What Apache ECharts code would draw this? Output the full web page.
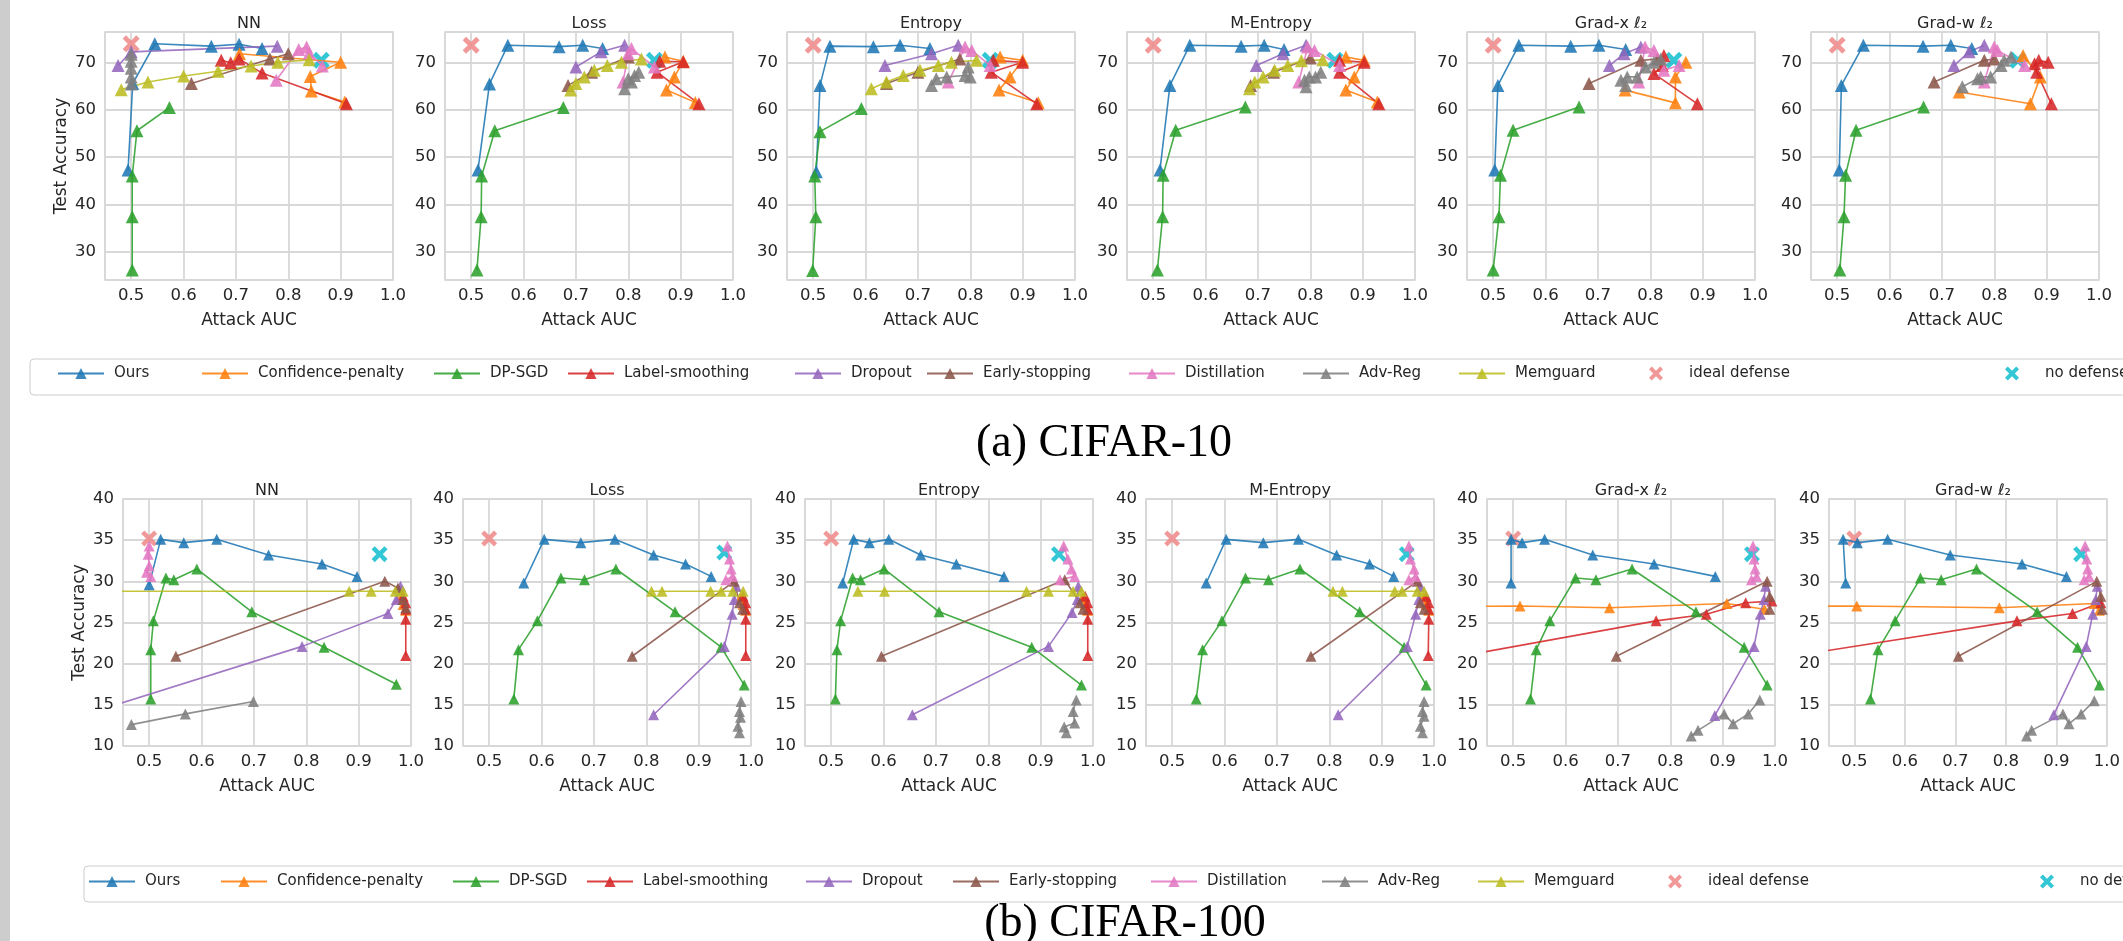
<!DOCTYPE html>
<html>
<head>
<meta charset="utf-8">
<title>Test accuracy vs attack AUC</title>
<script src="https://cdn.jsdelivr.net/npm/echarts@6/dist/echarts.min.js"></script>
<style>
html, body { margin: 0; padding: 0; background: #fff; }
#main { width: 2123px; height: 941px; }
</style>
</head>
<body>
<div id="main"></div>
<script>
// legend names, in plotting order
var methods = ['Ours', 'Confidence-penalty', 'DP-SGD', 'Label-smoothing', 'Dropout',
	'Early-stopping', 'Distillation', 'Adv-Reg', 'Memguard', 'ideal defense', 'no defense'];
var panelTitles = ['NN', 'Loss', 'Entropy', 'M-Entropy', 'Grad-x \u2113\u2082', 'Grad-w \u2113\u2082'];
var captions = ['(a) CIFAR-10', '(b) CIFAR-100'];

// ---- CIFAR-10 : each array holds one point list per panel (NN, Loss, Entropy, M-Entropy, Grad-x, Grad-w)
var c10Ours = [
	[[0.494,47.3],[0.503,65.6],[0.545,74.0],[0.653,73.5],[0.706,73.9],[0.750,73.0]],
	[[0.513,47.3],[0.535,65.5],[0.570,73.7],[0.668,73.4],[0.713,73.7],[0.751,73.0]],
	[[0.506,46.9],[0.513,65.2],[0.532,73.5],[0.615,73.4],[0.666,73.7],[0.723,73.0]],
	[[0.513,47.3],[0.532,65.2],[0.570,73.7],[0.668,73.5],[0.712,73.7],[0.750,72.8]],
	[[0.503,47.3],[0.509,65.2],[0.549,73.7],[0.648,73.5],[0.702,73.7],[0.753,72.8]],
	[[0.504,47.3],[0.508,65.2],[0.550,73.7],[0.664,73.5],[0.717,73.7],[0.757,73.0]]
];
var c10Conf = [
	[[0.707,71.9],[0.900,70.1],[0.842,67.1],[0.844,64.0],[0.908,61.7]],
	[[0.870,71.2],[0.905,70.3],[0.888,67.0],[0.873,64.2],[0.928,61.6]],
	[[0.857,71.2],[0.900,70.5],[0.876,67.0],[0.855,64.2],[0.930,61.5]],
	[[0.868,71.2],[0.903,70.5],[0.884,67.0],[0.868,64.2],[0.928,61.7]],
	[[0.868,70.1],[0.848,67.0],[0.848,61.5],[0.752,64.2]],
	[[0.855,71.5],[0.888,67.0],[0.869,61.3],[0.733,63.8]]
];
var c10Dp = [
	[[0.502,26.1],[0.502,37.4],[0.502,46.0],[0.511,55.6],[0.573,60.5]],
	[[0.511,26.1],[0.519,37.4],[0.520,46.0],[0.545,55.6],[0.676,60.5]],
	[[0.499,26.0],[0.505,37.4],[0.503,46.0],[0.513,55.4],[0.592,60.3]],
	[[0.508,26.1],[0.518,37.4],[0.519,46.2],[0.543,55.7],[0.676,60.6]],
	[[0.500,26.1],[0.511,37.4],[0.514,46.2],[0.538,55.7],[0.664,60.6]],
	[[0.505,26.1],[0.513,37.4],[0.516,46.2],[0.536,55.7],[0.665,60.6]]
];
var c10Label = [
	[[0.672,70.5],[0.690,70.0],[0.706,70.8],[0.750,67.8],[0.911,61.3]],
	[[0.860,70.3],[0.905,70.2],[0.855,68.0],[0.935,61.3]],
	[[0.844,70.5],[0.900,70.1],[0.840,68.0],[0.927,61.3]],
	[[0.856,70.5],[0.903,70.1],[0.856,68.0],[0.931,61.3]],
	[[0.826,71.5],[0.823,69.4],[0.807,67.7],[0.890,61.3]],
	[[0.885,70.5],[0.903,70.1],[0.877,69.8],[0.881,68.0],[0.909,61.3]]
];
var c10Dropout = [
	[[0.475,69.4],[0.500,72.3],[0.779,73.5]],
	[[0.700,69.1],[0.748,72.3],[0.793,73.7]],
	[[0.637,69.4],[0.726,71.9],[0.777,73.7]],
	[[0.697,69.4],[0.748,71.9],[0.792,73.7]],
	[[0.722,69.4],[0.750,71.9],[0.782,73.3]],
	[[0.723,69.4],[0.752,72.3],[0.781,73.7]]
];
var c10Early = [
	[[0.615,65.6],[0.765,70.8],[0.800,71.9]],
	[[0.685,65.2],[0.730,68.0],[0.800,71.2]],
	[[0.640,65.6],[0.700,68.0],[0.780,70.8]],
	[[0.686,65.2],[0.730,68.0],[0.800,71.0]],
	[[0.683,65.6],[0.782,70.5],[0.814,70.8]],
	[[0.685,65.9],[0.781,70.5],[0.800,70.8]]
];
var c10Distill = [
	[[0.777,66.3],[0.820,72.8],[0.835,73.3],[0.840,72.0],[0.865,69.3]],
	[[0.790,65.9],[0.800,71.9],[0.806,73.0],[0.850,69.1]],
	[[0.758,65.9],[0.790,73.3],[0.803,72.6],[0.838,69.4]],
	[[0.778,65.9],[0.795,73.3],[0.808,72.6],[0.856,69.4]],
	[[0.778,65.9],[0.790,73.3],[0.807,72.6],[0.826,68.4],[0.855,69.4]],
	[[0.781,65.9],[0.800,73.3],[0.806,72.6],[0.858,69.4]]
];
var c10Adv = [
	[[0.500,65.5],[0.500,67.0],[0.500,68.8],[0.500,70.3],[0.500,71.8]],
	[[0.793,64.5],[0.806,65.9],[0.800,66.6],[0.812,67.3],[0.820,68.0]],
	[[0.726,65.2],[0.735,66.6],[0.755,67.0],[0.790,67.3],[0.800,67.0],[0.796,69.1]],
	[[0.792,64.9],[0.789,66.3],[0.798,67.0],[0.810,67.0],[0.820,68.0]],
	[[0.753,65.2],[0.744,66.3],[0.756,67.0],[0.775,67.0],[0.791,69.1],[0.807,70.1],[0.820,70.8]],
	[[0.739,64.9],[0.768,66.6],[0.774,67.0],[0.793,67.0],[0.813,69.4],[0.819,70.5],[0.832,71.2]]
];
var c10Mem = [
	[[0.481,64.3],[0.532,65.9],[0.600,67.2],[0.666,68.2],[0.729,69.3],[0.780,70.1],[0.840,70.6]],
	[[0.690,64.2],[0.700,65.6],[0.716,67.0],[0.735,68.4],[0.760,69.4],[0.787,70.1],[0.825,70.8]],
	[[0.611,64.5],[0.640,65.9],[0.672,67.3],[0.704,68.4],[0.739,69.4],[0.764,70.1],[0.812,70.5]],
	[[0.684,64.5],[0.694,65.9],[0.710,67.0],[0.732,68.4],[0.757,69.4],[0.783,70.4],[0.824,70.6]],
	[],
	[]
];
var c10Ideal = [[[0.5,74.0]],[[0.5,73.7]],[[0.5,73.7]],[[0.5,73.7]],[[0.5,73.7]],[[0.5,73.7]]];
var c10None = [[[0.863,70.5]],[[0.850,70.5]],[[0.838,70.5]],[[0.847,70.5]],[[0.845,70.5]],[[0.845,70.5]]];

// ---- CIFAR-100
var c100Ours = [
	[[0.500,29.6],[0.522,35.1],[0.566,34.7],[0.629,35.1],[0.728,33.2],[0.830,32.1],[0.897,30.6]],
	[[0.566,29.8],[0.605,35.1],[0.675,34.7],[0.740,35.1],[0.814,33.2],[0.875,32.1],[0.924,30.6]],
	[[0.522,29.8],[0.543,35.1],[0.573,34.7],[0.610,35.1],[0.671,33.2],[0.739,32.1],[0.830,30.6]],
	[[0.565,29.8],[0.603,35.1],[0.674,34.7],[0.741,35.1],[0.814,33.2],[0.877,32.1],[0.923,30.6]],
	[[0.496,29.8],[0.496,35.1],[0.517,34.7],[0.560,35.1],[0.652,33.2],[0.769,32.1],[0.886,30.6]],
	[[0.483,29.8],[0.478,35.1],[0.506,34.7],[0.566,35.1],[0.690,33.2],[0.832,32.1],[0.920,30.6]]
];
var c100Conf = [
	[[0.980,28.0],[0.985,27.2],[0.990,26.5]],
	[[0.980,28.0],[0.985,27.2],[0.990,26.5]],
	[[0.980,28.0],[0.985,27.2],[0.990,26.5]],
	[[0.980,28.0],[0.985,27.2],[0.990,26.5]],
	[[0.100,26.8],[0.513,27.0],[0.684,26.8],[0.908,27.3],[0.980,26.6]],
	[[0.100,26.9],[0.505,27.0],[0.787,26.8],[0.975,27.3],[0.985,26.5]]
];
var c100Dp = [
	[[0.503,15.7],[0.503,21.7],[0.508,25.2],[0.532,30.4],[0.547,30.2],[0.591,31.5],[0.696,26.3],[0.834,22.0],[0.972,17.5]],
	[[0.547,15.7],[0.556,21.7],[0.592,25.2],[0.637,30.4],[0.682,30.2],[0.742,31.5],[0.855,26.3],[0.943,22.0],[0.987,17.4]],
	[[0.508,15.7],[0.511,21.7],[0.518,25.2],[0.541,30.4],[0.556,30.2],[0.601,31.5],[0.706,26.3],[0.883,22.0],[0.978,17.4]],
	[[0.546,15.7],[0.558,21.7],[0.595,25.2],[0.640,30.4],[0.684,30.2],[0.744,31.5],[0.858,26.3],[0.943,22.0],[0.985,17.4]],
	[[0.533,15.7],[0.544,21.7],[0.570,25.2],[0.619,30.4],[0.658,30.2],[0.727,31.5],[0.849,26.3],[0.941,22.0],[0.985,17.4]],
	[[0.532,15.7],[0.547,21.7],[0.581,25.2],[0.631,30.4],[0.672,30.2],[0.742,31.5],[0.862,26.3],[0.942,22.0],[0.985,17.4]]
];
var c100Label = [
	[[0.990,21.0],[0.990,25.4],[0.990,26.6],[0.990,27.4],[0.985,28.2]],
	[[0.990,21.0],[0.990,25.4],[0.990,26.6],[0.990,27.4],[0.985,28.2]],
	[[0.990,21.0],[0.990,25.4],[0.990,26.6],[0.990,27.4],[0.985,28.2]],
	[[0.989,21.0],[0.990,25.4],[0.990,26.6],[0.990,27.4],[0.985,28.2]],
	[[0.200,18.6],[0.773,25.2],[0.869,26.0],[0.944,27.4],[0.994,27.6]],
	[[0.200,19.2],[0.822,25.2],[0.932,26.1],[0.988,27.4]]
];
var c100Dropout = [
	[[0.200,10.3],[0.792,22.1],[0.956,26.1],[0.972,27.8],[0.980,29.4]],
	[[0.814,13.8],[0.949,22.1],[0.964,26.0],[0.968,27.8],[0.972,29.4]],
	[[0.655,13.8],[0.915,22.1],[0.960,26.2],[0.970,27.8],[0.972,29.4]],
	[[0.817,13.8],[0.949,22.1],[0.965,26.0],[0.971,27.8],[0.974,29.4]],
	[[0.885,13.7],[0.960,22.1],[0.972,26.0],[0.979,27.8],[0.982,29.4]],
	[[0.895,13.8],[0.959,22.1],[0.972,26.0],[0.978,27.8],[0.981,29.4]]
];
var c100Early = [
	[[0.551,20.9],[0.950,30.0],[0.975,29.2],[0.985,27.8],[0.990,26.8]],
	[[0.773,20.9],[0.968,30.0],[0.978,27.4],[0.984,26.6]],
	[[0.596,20.9],[0.946,30.2],[0.975,27.4],[0.981,26.6]],
	[[0.765,20.9],[0.968,30.0],[0.974,27.4],[0.981,26.6]],
	[[0.697,20.9],[0.985,30.0],[0.990,28.2],[0.990,26.6]],
	[[0.706,20.9],[0.980,30.0],[0.988,28.2],[0.991,26.6]]
];
var c100Distill = [
	[[0.500,34.3],[0.498,33.3],[0.500,31.9],[0.495,31.1],[0.503,30.6]],
	[[0.955,34.3],[0.959,32.7],[0.962,31.5],[0.965,30.6],[0.952,30.2]],
	[[0.944,34.3],[0.952,32.7],[0.959,31.5],[0.965,30.6],[0.937,30.2]],
	[[0.952,34.3],[0.955,32.7],[0.962,31.5],[0.965,30.6],[0.952,30.2]],
	[[0.958,34.3],[0.960,32.7],[0.962,31.5],[0.965,30.6],[0.955,30.2]],
	[[0.957,34.3],[0.960,32.7],[0.962,31.5],[0.965,30.6],[0.955,30.2]]
];
var c100Adv = [
	[[0.466,12.6],[0.569,13.9],[0.699,15.4]],
	[[0.978,11.6],[0.975,12.4],[0.980,13.5],[0.978,14.2],[0.981,15.4]],
	[[0.949,11.6],[0.945,12.3],[0.965,12.8],[0.962,14.2],[0.968,15.6]],
	[[0.978,11.6],[0.974,12.4],[0.981,13.6],[0.978,14.2],[0.981,15.4]],
	[[0.840,11.2],[0.853,11.9],[0.903,13.9],[0.920,12.7],[0.949,13.9],[0.971,15.6]],
	[[0.841,11.2],[0.851,11.9],[0.913,13.9],[0.925,12.7],[0.949,13.9],[0.975,15.5]]
];
var c100Mem = [
	[[0.100,28.8],[0.882,28.8],[0.924,28.8],[0.970,28.8],[0.985,28.8]],
	[[0.810,28.8],[0.830,28.8],[0.923,28.8],[0.943,28.8],[0.965,28.8],[0.985,28.8]],
	[[0.551,28.8],[0.602,28.8],[0.873,28.8],[0.915,28.8],[0.962,28.8],[0.978,28.8]],
	[[0.807,28.8],[0.825,28.8],[0.925,28.8],[0.939,28.8],[0.968,28.8],[0.981,28.8]],
	[],
	[]
];
var c100Ideal = [[[0.5,35.2]],[[0.5,35.2]],[[0.5,35.2]],[[0.5,35.2]],[[0.5,35.2]],[[0.5,35.2]]];
var c100None = [[[0.940,33.3]],[[0.949,33.5]],[[0.935,33.3]],[[0.948,33.3]],[[0.956,33.3]],[[0.949,33.3]]];

var c10 = [c10Ours, c10Conf, c10Dp, c10Label, c10Dropout, c10Early, c10Distill, c10Adv, c10Mem, c10Ideal, c10None];
var c100 = [c100Ours, c100Conf, c100Dp, c100Label, c100Dropout, c100Early, c100Distill, c100Adv, c100Mem, c100Ideal, c100None];

// ---- styling / layout
var colors = ['#1f77b4', '#ff7f0e', '#2ca02c', '#d62728', '#9467bd', '#8c564b',
	'#e377c2', '#7f7f7f', '#bcbd22', '#ef8b8b', '#17becf'];
var font = "'DejaVu Sans', sans-serif";
var ink = '#262626';
var xPath = 'path://M0,3 L3,0 L7.5,4.5 L12,0 L15,3 L10.5,7.5 L15,12 L12,15 L7.5,10.5 L3,15 L0,12 L4.5,7.5 Z';

var rows = [
	{ data: c10, lefts: [105, 445, 787, 1127, 1467, 1811], top: 32, height: 248,
	  ymin: 24, ymax: 76.5, yint: null, tri: 13, cross: 17, titleY: 24,
	  legendTop: 366, legendLefts: [57, 201, 433, 567, 794, 926, 1128, 1302, 1458, 1649, 2005],
	  frame: [30, 359], caption: [1104, 444] },
	{ data: c100, lefts: [123, 463, 805, 1146, 1487, 1829], top: 499, height: 247,
	  ymin: 10, ymax: 40, yint: 5, tri: 11, cross: 16, titleY: 491,
	  legendTop: 874, legendLefts: [88, 220, 452, 586, 805, 952, 1150, 1321, 1477, 1668, 2040],
	  frame: [84, 866], caption: [1125, 924] }
];
var panelW = 288;

var option = {
	animation: false,
	backgroundColor: '#fff',
	grid: [], xAxis: [], yAxis: [], series: [], legend: [], graphic: []
};

option.graphic.push({ type: 'rect', left: 0, top: 0, z: 1,
	shape: { width: 10, height: 941 }, style: { fill: '#cdcdcd' } });

rows.forEach(function(row, r) {
	// legend frame
	option.graphic.push({ type: 'rect', z: 1, x: row.frame[0], y: row.frame[1],
		shape: { x: 0, y: 0, width: 2300, height: 36, r: 4 },
		style: { fill: '#fff', stroke: '#cccccc', lineWidth: 1 } });
	// caption
	option.graphic.push({ type: 'text', z: 5, x: row.caption[0], y: row.caption[1],
		style: { text: captions[r], fill: '#000', font: "46px 'Liberation Serif', serif",
			textAlign: 'center', textVerticalAlign: 'middle', align: 'center', verticalAlign: 'middle' } });

	for (var p = 0; p < 6; p++) {
		var gi = r * 6 + p;
		option.grid.push({ left: row.lefts[p], top: row.top, width: panelW, height: row.height,
			show: true, borderColor: '#d6d6d6', borderWidth: 1.5, backgroundColor: '#fff' });
		option.graphic.push({ type: 'text', z: 5, x: row.lefts[p] + panelW / 2, y: row.titleY,
			style: { text: panelTitles[p], fill: ink, font: '16px ' + font,
				textAlign: 'center', textVerticalAlign: 'middle', align: 'center', verticalAlign: 'middle' } });
		option.xAxis.push({
			type: 'value', gridIndex: gi, min: 0.45, max: 1.0,
			name: 'Attack AUC', nameLocation: 'middle', nameGap: 32,
			nameTextStyle: { fontFamily: font, fontSize: 17, color: ink },
			axisLine: { show: false }, axisTick: { show: false },
			axisLabel: { fontFamily: font, fontSize: 16.5, color: ink, margin: 7,
				showMinLabel: false, formatter: function(v) { return v.toFixed(1); } },
			splitLine: { show: true, lineStyle: { color: '#d8d8d8', width: 1.8 } }
		});
		var ya = {
			type: 'value', gridIndex: gi, min: row.ymin, max: row.ymax,
			axisLine: { show: false }, axisTick: { show: false },
			axisLabel: { fontFamily: font, fontSize: 16.5, color: ink, margin: 9 },
			splitLine: { show: true, lineStyle: { color: '#d8d8d8', width: 1.8 } }
		};
		if (row.yint) {
			ya.interval = row.yint;
		} else {
			ya.axisLabel.showMinLabel = false;
			ya.axisLabel.showMaxLabel = false;
		}
		if (p === 0) {
			ya.name = 'Test Accuracy';
			ya.nameLocation = 'middle';
			ya.nameRotate = 90;
			ya.nameGap = 35;
			ya.nameTextStyle = { fontFamily: font, fontSize: 17, color: ink };
		}
		option.yAxis.push(ya);

		for (var m = 0; m < methods.length; m++) {
			var pts = row.data[m][p];
			var isCross = m >= 9;
			option.series.push({
				name: methods[m],
				type: isCross ? 'scatter' : 'line',
				xAxisIndex: gi, yAxisIndex: gi,
				data: pts,
				clip: true,
				symbol: isCross ? xPath : 'triangle',
				symbolSize: isCross ? row.cross : row.tri,
				itemStyle: { color: colors[m], opacity: 0.88 },
				lineStyle: { color: colors[m], width: 1.6, opacity: 0.88 },
				emphasis: { disabled: true },
				silent: true
			});
		}
	}

	// one legend per entry so the column positions can follow the figure
	for (var k = 0; k < methods.length; k++) {
		option.legend.push({
			data: [methods[k]],
			left: row.legendLefts[k], top: row.legendTop,
			padding: 0, itemWidth: 46, itemHeight: 14, itemGap: 0,
			selectedMode: false,
			textStyle: { fontFamily: font, fontSize: 15, color: ink, padding: [0, 0, 0, 5] }
		});
	}
});

var myChart = echarts.init(document.getElementById('main'));
myChart.setOption(option, true);
</script>
</body>
</html>
